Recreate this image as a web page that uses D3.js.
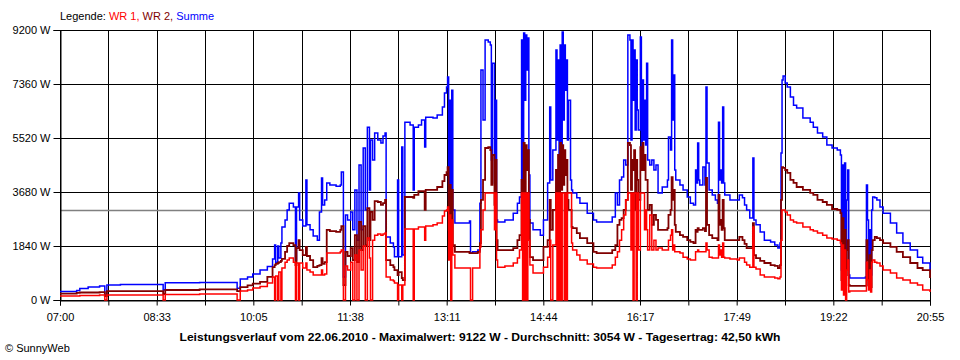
<!DOCTYPE html>
<html><head><meta charset="utf-8">
<script src="https://cdn.jsdelivr.net/npm/d3@7"></script>
<style>
body{margin:0;background:#fff}
svg{display:block}
text{font-family:"Liberation Sans",Arial,sans-serif;}
</style>
</head><body>
<svg id="chart" width="960" height="360"></svg>
<script>
// ---------- data ----------
const timeLabels = ["07:00","08:33","10:05","11:38","13:11","14:44","16:17","17:49","19:22","20:55"];
const dayMinutes = 835; // 07:00 .. 20:55
const yTicks = [0,1840,3680,5520,7360,9200];
const average = 3054;
const legendItems = [
  {label:"WR 1,", color:"#ff0000"},
  {label:"WR 2,", color:"#800000"},
  {label:"Summe", color:"#0000ff"}
];
const footerText = "Leistungsverlauf vom 22.06.2010 - Maximalwert: 9122 W - Durchschnitt: 3054 W - Tagesertrag: 42,50 kWh";
const copyrightText = "\u00A9 SunnyWeb";

// minutes after 07:00
const minutesAfter7 = [
0,16,19,27,38,43,45,58,99,101,
134,170,173,180,185,192,199,204,206,207,
209,210,212,213,216,218,220,224,226,227,
229,230,233,236,237,240,243,247,249,251,
252,254,256,259,265,269,270,272,274,276,
279,281,283,285,287,289,291,293,295,297,
298,300,302,305,308,310,312,313,317,320,
321,324,325,328,329,331,336,339,340,344,
347,350,351,358,362,367,369,371,372,373,
374,375,376,377,379,393,394,396,401,403,
404,406,408,411,413,414,415,417,418,419,
420,427,435,439,441,443,444,445,446,447,
448,449,450,451,454,461,464,468,470,471,
473,476,477,478,479,480,481,482,483,484,
485,486,487,488,490,491,492,496,499,506,
512,515,525,530,533,535,537,539,541,543,
545,547,548,549,550,551,552,553,554,555,
557,558,559,560,561,562,563,564,566,568,
570,572,574,578,583,584,586,587,588,589,
590,591,595,598,602,605,608,610,611,612,
613,614,617,619,620,621,623,626,629,631,
632,633,634,635,636,637,638,643,650,652,
655,657,659,662,665,666,668,672,676,682,
686,689,691,692,693,694,696,698,701,704,
707,713,720,723,727,732,736,741,746,749,
750,751,752,753,754,755,756,757,758,773,
774,775,776,777,778,779,780,782,784,787,
790,797,803,809,816,823,828,835];

const summe = [
290,320,390,440,480,170,510,530,340,590,
600,400,715,785,885,1020,1140,1400,1870,1290,
1840,1430,1940,2490,2730,3070,3300,3170,1360,3170,
3650,2730,2520,4090,2560,2390,2180,2040,3000,4160,
3240,3410,3990,3920,3880,3920,4360,780,2900,2730,
3000,2390,3750,2040,4600,2390,5180,3070,5890,3750,
5450,4770,5690,5450,5350,5590,5690,2150,1940,1810,
1470,4090,1470,5210,1530,6060,5960,3750,5890,5960,
6130,5210,6230,6200,6300,6580,7050,7260,7600,3410,
6810,2730,7150,3070,2620,2690,1600,1640,1700,3300,
7840,6130,8860,8790,8690,4770,8070,3990,6810,2730,
2660,2730,2960,3300,3510,8860,3750,9100,6810,9030,
7840,8930,4260,2620,2390,2210,2730,3990,6580,4090,
5110,8520,5450,8180,4430,8690,4770,9130,6130,8690,
7150,8180,5450,6810,4090,3750,3650,3480,3300,2960,
2730,2660,2660,2830,3650,3240,4090,4190,4770,4600,
9030,8860,5450,8860,6810,8520,5790,8180,6470,5790,
8960,5110,7500,5450,6810,5280,8070,4770,4600,4770,
4430,4600,3650,3850,4090,5550,5110,8860,6130,7670,
4430,4090,3920,3750,3510,3300,3240,4430,3990,5350,
4090,3920,4530,3920,7260,4670,3750,3580,3410,3300,
6060,4090,4430,3990,6580,3990,3580,3410,3410,3580,
3480,3240,3070,2790,4840,2730,2560,2320,2040,1980,
1870,1770,1940,5010,7500,7630,7390,7260,6920,6640,
6540,6200,6060,5890,5690,5550,5280,5180,5110,4940,
1020,4600,850,4670,1190,3410,4430,850,750,780,
3920,2730,780,2390,850,3070,3510,3480,3410,3170,
2960,2620,2280,1940,1700,1460,1260,1020];

const wr2 = [
220,240,255,255,270,135,305,305,205,340,
360,305,440,495,560,615,785,1120,1190,1230,
1260,1290,1330,1400,1640,1840,1940,1870,1190,1770,
2040,1700,1530,1810,1500,1360,1120,1160,1190,1430,
1230,1290,2390,2350,2320,2390,2520,510,1640,1500,
1770,1360,2210,1290,2660,1700,2520,1870,3130,2040,
3000,2730,3370,3340,3240,3300,3410,1360,1190,1120,
1020,850,950,750,680,3510,3510,3480,3580,3710,
3710,3070,3750,3750,3850,4050,4260,4360,4530,2390,
3920,1700,3750,1870,1640,1600,1600,1600,1640,1940,
3410,4090,5180,5210,5110,3920,4940,3240,4770,2040,
1700,1700,1770,2040,2210,4090,2620,5350,3410,5280,
4430,5110,2730,1460,1360,1360,1810,2040,3410,2390,
3070,4430,3410,4940,2730,5350,3750,5280,3920,5110,
4260,4770,3410,3070,3070,2490,2450,2280,2110,1940,
1640,1600,1600,1700,1870,2560,2730,2790,3070,3410,
5350,5280,3750,4770,4430,5110,3070,4770,4090,3410,
5210,4430,5350,4430,4940,4090,4090,3070,3240,2560,
2900,2730,2390,2390,2450,2900,3070,4190,3410,3750,
2560,2320,2210,2150,2040,1980,1940,2390,2320,2450,
2390,2390,2450,2350,4160,2560,2210,2110,2110,2040,
3580,2560,2730,2390,3410,2450,2040,2040,2040,2150,
2040,1910,1770,1770,2620,1530,1430,1330,1260,1190,
1160,1090,1190,3410,4530,4500,4430,4330,4090,3990,
3850,3750,3650,3580,3410,3340,3240,3100,3070,2960,
680,2790,580,2390,850,1700,2040,510,480,480,
2040,1360,510,1530,440,1700,2040,2150,2110,2040,
1940,1810,1640,1460,1260,1090,1020,750];

const wr1 = [
135,135,150,150,170,0,170,170,0,190,
205,0,305,340,410,460,580,780,0,820,
0,950,0,1090,1290,1360,1430,1290,0,1260,
0,1260,1090,1260,1020,950,850,850,850,1020,
850,890,1600,1600,1600,1640,1700,0,1160,1020,
1290,0,1530,0,1700,1020,1840,0,2110,1430,
0,2040,2210,2250,2210,2250,2280,780,680,650,
580,0,510,0,510,2420,2420,0,2420,2490,
2490,2040,2520,2560,2620,2860,3030,3070,3170,1360,
2900,0,2730,1530,1090,1090,0,1090,1090,1810,
2390,3070,3650,3650,3650,3650,3650,2390,3650,1360,
1120,1160,1260,1430,1700,3650,0,3650,0,3650,
0,3650,2040,1190,920,920,1120,1460,2040,0,
1870,3650,0,3650,0,3650,0,3650,3650,0,
3650,0,3650,3650,3650,1940,1700,1530,1360,1230,
1120,1090,1090,1190,1460,1640,2040,2390,2900,3410,
3650,3650,1700,3650,0,3650,3650,0,3650,1700,
3650,3650,3650,3650,2390,3070,2390,1700,2900,1700,
2040,1700,1770,1700,1700,2040,2210,2390,1700,1870,
1640,1640,1600,1460,1400,1360,1360,1640,1640,1700,
1640,1640,1640,1640,1940,1700,1460,1430,1430,1430,
1870,1530,1700,1460,1940,1460,1430,1400,1360,1430,
1430,1290,1190,1120,2490,1120,1060,850,780,780,
750,720,780,2040,3070,3070,3000,2900,2730,2660,
2620,2490,2390,2350,2280,2210,2110,2080,2040,1940,
340,1870,170,1700,0,1020,1360,270,305,305,
1290,680,340,1020,270,1290,1360,1290,1260,1160,
1020,920,750,680,580,510,340,270];

// ---------- drawing ----------
const svg = d3.select("#chart");
const mLeft = 60, mRight = 930, mTop = 30, mBottom = 300;

const x = d3.scaleLinear().domain([0, dayMinutes]).range([mLeft, mRight]);
const y = d3.scaleLinear().domain([0, 9200]).range([mBottom, mTop]);

const gridSteps = (timeLabels.length - 1) * 2;
const xGridValues = d3.range(gridSteps + 1).map(i => i * dayMinutes / gridSteps);

// horizontal grid
svg.append("g").selectAll("line").data(yTicks).join("line")
  .attr("x1", mLeft).attr("x2", mRight)
  .attr("y1", d => Math.round(y(d)) + 0.5).attr("y2", d => Math.round(y(d)) + 0.5)
  .attr("stroke", "#000").attr("stroke-width", 1);

// vertical grid
svg.append("g").selectAll("line").data(xGridValues).join("line")
  .attr("x1", d => Math.round(x(d)) + 0.5).attr("x2", d => Math.round(x(d)) + 0.5)
  .attr("y1", mTop).attr("y2", mBottom)
  .attr("stroke", "#000").attr("stroke-width", 1);

// average line
svg.append("line")
  .attr("x1", mLeft).attr("x2", mRight)
  .attr("y1", Math.round(y(average)) + 0.5).attr("y2", Math.round(y(average)) + 0.5)
  .attr("stroke", "#808080").attr("stroke-width", 1.5);

// y axis
const yAxis = d3.axisLeft(y).tickValues(yTicks).tickSize(7).tickPadding(3)
  .tickFormat(d => d + " W");
const gy = svg.append("g").attr("transform", `translate(${mLeft + 0.5},0)`).call(yAxis);
gy.select(".domain").attr("stroke", "#000");
gy.selectAll(".tick line").attr("stroke", "#000");
gy.selectAll("text").attr("font-size", 11).attr("fill", "#000")
  .attr("font-family", '"Liberation Sans",Arial,sans-serif');

// x axis
const xAxis = d3.axisBottom(x).tickValues(xGridValues).tickSize(5).tickPadding(8)
  .tickFormat((d, i) => i % 2 === 0 ? timeLabels[i / 2] : "");
const gx = svg.append("g").attr("transform", `translate(0,${mBottom + 0.5})`).call(xAxis);
gx.select(".domain").attr("stroke", "#000");
gx.selectAll(".tick line").attr("stroke", "#000");
gx.selectAll("text").attr("font-size", 11).attr("fill", "#000")
  .attr("font-family", '"Liberation Sans",Arial,sans-serif');

// frame
svg.append("rect").attr("x", mLeft + 0.5).attr("y", mTop + 0.5)
  .attr("width", mRight - mLeft).attr("height", mBottom - mTop)
  .attr("fill", "none").attr("stroke", "#000");

// series
const line = d3.line().x(d => x(d.t)).y(d => y(d.v)).curve(d3.curveStepAfter);
const mk = arr => minutesAfter7.map((t, i) => ({t, v: arr[i]}));
const series = [
  {data: summe, color: "#0000ff", w: 1.5},
  {data: wr2, color: "#800000", w: 1.8},
  {data: wr1, color: "#ff0000", w: 1.5}
];
const plot = svg.append("g");
series.forEach(s => {
  plot.append("path").datum(mk(s.data)).attr("d", line)
    .attr("fill", "none").attr("stroke", s.color).attr("stroke-width", s.w)
    .attr("stroke-linejoin", "miter");
});

// legend
const lg = svg.append("text").attr("x", 60).attr("y", 20).attr("font-size", 11);
lg.append("tspan").attr("fill", "#000").text("Legende: ");
legendItems.forEach((it, i) => {
  lg.append("tspan").attr("fill", it.color).text(it.label + (i < legendItems.length - 1 ? " " : ""));
});

// footer
svg.append("text").attr("x", 480).attr("y", 341).attr("text-anchor", "middle")
  .attr("font-size", 11).attr("font-weight", "bold").attr("fill", "#000")
  .attr("textLength", 601).attr("lengthAdjust", "spacingAndGlyphs")
  .text(footerText);

svg.append("text").attr("x", 5).attr("y", 352).attr("font-size", 11).attr("fill", "#000")
  .text(copyrightText);
</script>
</body></html>
